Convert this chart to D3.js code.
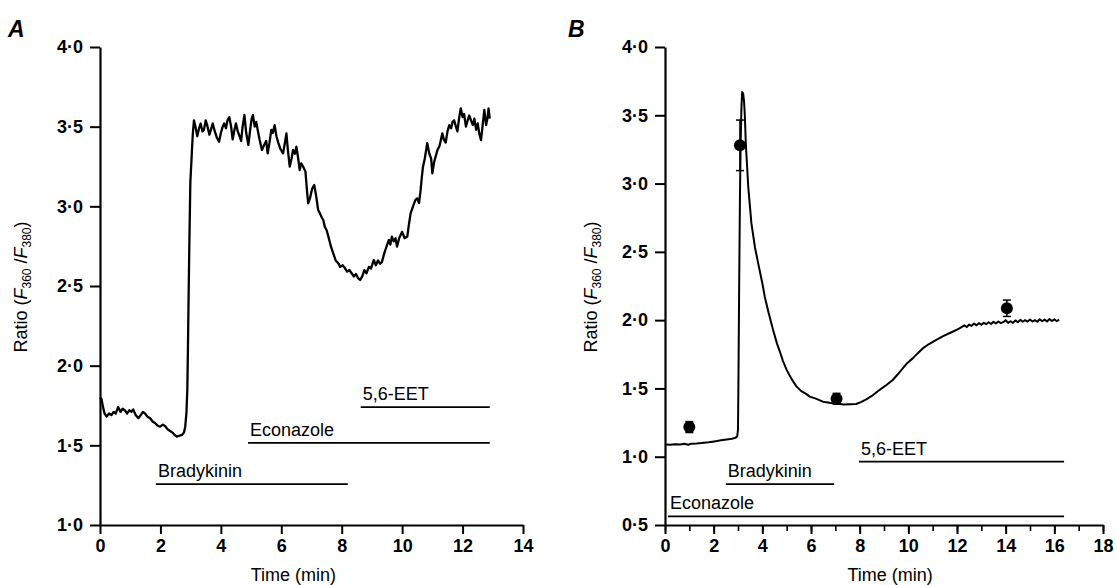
<!DOCTYPE html>
<html>
<head>
<meta charset="utf-8">
<script src="https://cdn.jsdelivr.net/npm/d3@7"></script>
<style>
  body { margin: 0; background: #fff; }
  svg { display: block; }
  text { font-family: "Liberation Sans", Arial, Helvetica, sans-serif; fill: #000; }
</style>
</head>
<body>
<div id="chart"></div>
<script>
// Panel A: ratio trace (time in min)
const traceATime = [0.00,0.05,0.10,0.15,0.22,0.30,0.38,0.45,0.52,0.60,0.68,0.75,0.82,0.90,0.97,1.04,1.10,1.18,1.27,1.35,1.42,1.49,1.57,1.66,1.74,1.82,1.90,1.99,2.08,2.16,2.24,2.32,2.40,2.47,2.54,2.62,2.71,2.78,2.82,2.86,2.89,2.91,2.93,2.96,2.99,3.03,3.07,3.11,3.16,3.22,3.28,3.33,3.39,3.44,3.50,3.56,3.62,3.67,3.73,3.80,3.87,3.94,4.00,4.06,4.11,4.17,4.22,4.28,4.34,4.39,4.45,4.50,4.56,4.62,4.67,4.72,4.78,4.84,4.91,4.97,5.02,5.06,5.12,5.17,5.22,5.28,5.36,5.42,5.50,5.55,5.61,5.67,5.72,5.78,5.84,5.90,5.97,6.06,6.12,6.17,6.22,6.28,6.34,6.39,6.45,6.50,6.56,6.61,6.66,6.72,6.80,6.85,6.89,6.95,7.02,7.09,7.15,7.22,7.28,7.34,7.39,7.44,7.50,7.56,7.64,7.72,7.80,7.89,7.95,8.03,8.11,8.18,8.25,8.33,8.40,8.47,8.54,8.61,8.68,8.75,8.82,8.90,8.97,9.06,9.13,9.20,9.27,9.33,9.40,9.47,9.56,9.61,9.66,9.72,9.78,9.83,9.90,9.95,10.00,10.08,10.17,10.22,10.28,10.36,10.44,10.50,10.56,10.61,10.65,10.69,10.75,10.83,10.90,10.96,11.00,11.06,11.12,11.17,11.24,11.33,11.38,11.44,11.50,11.56,11.62,11.67,11.72,11.78,11.83,11.89,11.94,12.00,12.05,12.11,12.17,12.22,12.28,12.34,12.39,12.45,12.50,12.56,12.61,12.66,12.72,12.78,12.83,12.86,12.90];
const traceARatio = [1.80,1.79,1.74,1.70,1.68,1.70,1.69,1.71,1.70,1.74,1.71,1.73,1.72,1.70,1.72,1.71,1.725,1.69,1.67,1.69,1.71,1.70,1.68,1.67,1.65,1.64,1.625,1.617,1.63,1.62,1.60,1.59,1.58,1.565,1.555,1.56,1.565,1.58,1.617,1.70,1.85,2.10,2.40,2.80,3.15,3.30,3.45,3.54,3.50,3.44,3.49,3.52,3.47,3.48,3.54,3.50,3.45,3.48,3.52,3.47,3.43,3.405,3.46,3.50,3.52,3.49,3.54,3.56,3.50,3.42,3.48,3.52,3.47,3.44,3.41,3.50,3.573,3.46,3.385,3.48,3.55,3.573,3.50,3.53,3.479,3.42,3.354,3.38,3.41,3.333,3.40,3.48,3.46,3.51,3.44,3.40,3.36,3.333,3.40,3.458,3.35,3.249,3.30,3.354,3.33,3.374,3.30,3.228,3.27,3.25,3.218,3.10,3.019,3.05,3.11,3.134,3.07,2.977,2.956,2.93,2.914,2.872,2.85,2.81,2.75,2.705,2.66,2.642,2.62,2.63,2.611,2.59,2.60,2.58,2.56,2.575,2.55,2.538,2.56,2.60,2.58,2.62,2.61,2.663,2.63,2.66,2.64,2.65,2.70,2.74,2.789,2.76,2.81,2.78,2.80,2.747,2.80,2.82,2.84,2.80,2.81,2.88,2.956,3.00,3.04,3.05,3.02,3.10,3.18,3.249,3.30,3.396,3.33,3.30,3.207,3.28,3.32,3.354,3.38,3.458,3.42,3.40,3.47,3.51,3.49,3.53,3.54,3.50,3.47,3.56,3.615,3.56,3.58,3.50,3.54,3.57,3.54,3.51,3.55,3.48,3.52,3.45,3.416,3.50,3.605,3.51,3.56,3.615,3.55];

// Panel B: ratio trace
const traceBTime = [0.04,0.20,0.40,0.63,0.80,0.95,1.07,1.30,1.50,1.80,2.09,2.30,2.53,2.75,2.89,2.97,3.00,3.02,3.05,3.08,3.11,3.14,3.17,3.21,3.25,3.28,3.32,3.35,3.42,3.55,3.70,3.83,4.00,4.10,4.25,4.44,4.60,4.72,4.85,5.00,5.20,5.40,5.60,5.80,5.95,6.20,6.49,6.76,7.04,7.34,7.60,7.86,8.05,8.27,8.50,8.81,9.10,9.36,9.55,9.77,9.95,10.18,10.40,10.59,10.85,11.13,11.45,11.82,12.00,12.10,12.20,12.30,12.40,12.50,12.60,12.70,12.80,12.90,13.00,13.10,13.20,13.30,13.40,13.50,13.60,13.70,13.80,13.90,14.00,14.10,14.20,14.30,14.40,14.50,14.60,14.70,14.80,14.90,15.00,15.10,15.20,15.30,15.40,15.50,15.60,15.70,15.80,15.90,16.00,16.10,16.20];
const traceBRatio = [1.09,1.088,1.092,1.09,1.095,1.088,1.095,1.097,1.10,1.106,1.114,1.12,1.126,1.132,1.138,1.15,1.20,1.60,2.30,2.90,3.30,3.55,3.67,3.66,3.60,3.50,3.30,3.20,2.98,2.71,2.53,2.416,2.27,2.172,2.06,1.93,1.83,1.77,1.70,1.636,1.57,1.515,1.48,1.46,1.44,1.425,1.403,1.395,1.39,1.382,1.385,1.386,1.40,1.42,1.445,1.488,1.525,1.562,1.60,1.647,1.685,1.72,1.76,1.793,1.825,1.854,1.885,1.915,1.93,1.94,1.95,1.962,1.95,1.968,1.958,1.975,1.962,1.978,1.966,1.98,1.97,1.985,1.972,1.988,1.975,1.99,1.978,1.985,2.0,1.98,1.992,1.98,1.998,1.985,2.002,1.988,2.0,1.99,2.005,1.99,2.0,1.988,2.006,1.992,2.004,1.99,2.008,1.994,2.006,1.992,2.004];

// Panel B: mean values with error bars
const meanTime = [1, 3.08, 7.05, 14.05];
const meanRatio = [1.217, 3.28, 1.424, 2.087];
const meanErr = [0.04, 0.185, 0.04, 0.06];

// Drug application bars
const barLabelsA = ["Bradykinin", "Econazole", "5,6-EET"];
const barStartA = [1.85, 4.9, 8.63];
const barEndA = [8.2, 12.9, 12.9];
const barLevelA = [1.256, 1.515, 1.74];

const barLabelsB = ["Bradykinin", "Econazole", "5,6-EET"];
const barStartB = [2.5, 0.12, 7.97];
const barEndB = [6.95, 16.4, 16.4];
const barLevelB = [0.80, 0.563, 0.964];

// Axis ticks
const xTicksA = [0, 2, 4, 6, 8, 10, 12, 14];
const yTicksA = [1.0, 1.5, 2.0, 2.5, 3.0, 3.5, 4.0];
const xTicksB = [0, 2, 4, 6, 8, 10, 12, 14, 16, 18];
const xMinorB = d3.range(0, 19, 1);
const yTicksB = [0.5, 1.0, 1.5, 2.0, 2.5, 3.0, 3.5, 4.0];

const W = 1117, H = 585;
const svg = d3.select("#chart").append("svg").attr("width", W).attr("height", H);

const fmt = d => d3.format(".1f")(d).replace(".", "\u00b7");

function drawPanel(p) {
  const x = d3.scaleLinear().domain(p.xDomain).range(p.xRange);
  const y = d3.scaleLinear().domain(p.yDomain).range([525, 47]);
  const g = svg.append("g");

  // minor ticks (B only)
  if (p.xMinor) {
    g.append("g")
      .attr("transform", "translate(0,525)")
      .call(d3.axisBottom(x).tickValues(p.xMinor).tickSize(6).tickFormat(""))
      .call(s => s.select(".domain").remove())
      .selectAll("line").attr("stroke-width", 1.6);
  }

  const xAxis = g.append("g")
    .attr("transform", "translate(0,525)")
    .call(d3.axisBottom(x).tickValues(p.xTicks).tickSize(9).tickSizeOuter(0).tickPadding(5).tickFormat(d3.format("d")));
  const yAxis = g.append("g")
    .attr("transform", "translate(" + p.xRange[0] + ",0)")
    .call(d3.axisLeft(y).tickValues(p.yTicks).tickSize(10).tickSizeOuter(0).tickPadding(7).tickFormat(fmt));

  [xAxis, yAxis].forEach(a => {
    a.select(".domain").attr("stroke-width", 2.2);
    a.selectAll(".tick line").attr("stroke-width", 2);
    a.selectAll("text")
      .attr("font-size", 18)
      .attr("font-weight", "bold")
      .attr("font-family", '"Liberation Sans", Arial, sans-serif');
  });

  // trace
  const pts = p.time.map((t, i) => [t, p.ratio[i]]);
  g.append("path")
    .datum(pts)
    .attr("fill", "none")
    .attr("stroke", "#000")
    .attr("stroke-width", p.traceWidth)
    .attr("stroke-linejoin", "round")
    .attr("d", d3.line().x(d => x(d[0])).y(d => y(d[1])));

  // drug bars
  p.barLabels.forEach((lab, i) => {
    g.append("line")
      .attr("x1", x(p.barStart[i])).attr("x2", x(p.barEnd[i]))
      .attr("y1", y(p.barLevel[i])).attr("y2", y(p.barLevel[i]))
      .attr("stroke", "#000").attr("stroke-width", 1.8);
    g.append("text")
      .attr("x", x(p.barStart[i]) + 2)
      .attr("y", y(p.barLevel[i]) - 7)
      .attr("font-size", 18)
      .text(lab);
  });

  // means with error bars
  if (p.means) {
    p.means.time.forEach((t, i) => {
      const cx = x(t), cy = y(p.means.ratio[i]);
      const top = y(p.means.ratio[i] + p.means.err[i]);
      const bot = y(p.means.ratio[i] - p.means.err[i]);
      g.append("line").attr("x1", cx).attr("x2", cx).attr("y1", top).attr("y2", bot)
        .attr("stroke", "#000").attr("stroke-width", 1.5);
      [top, bot].forEach(yy => g.append("line")
        .attr("x1", cx - 4).attr("x2", cx + 4).attr("y1", yy).attr("y2", yy)
        .attr("stroke", "#000").attr("stroke-width", 1.5));
      g.append("circle").attr("cx", cx).attr("cy", cy).attr("r", 6).attr("fill", "#000");
    });
  }

  // axis titles
  g.append("text")
    .attr("x", x(p.xTitleAt)).attr("y", 581)
    .attr("text-anchor", "middle").attr("font-size", 18)
    .text("Time (min)");

  const yt = g.append("text")
    .attr("transform", "translate(" + p.yTitleX + ",287) rotate(-90)")
    .attr("text-anchor", "middle").attr("font-size", 18);
  yt.append("tspan").text("Ratio (");
  yt.append("tspan").attr("font-style", "italic").text("F");
  yt.append("tspan").attr("font-size", 12).attr("dy", 4).text("360");
  yt.append("tspan").attr("dy", -4).text(" /");
  yt.append("tspan").attr("font-style", "italic").text("F");
  yt.append("tspan").attr("font-size", 12).attr("dy", 4).text("380");
  yt.append("tspan").attr("dy", -4).text(")");

  // panel letter
  g.append("text")
    .attr("x", p.letterX).attr("y", 37)
    .attr("font-size", 23).attr("font-weight", "bold").attr("font-style", "italic")
    .text(p.letter);
}

drawPanel({
  letter: "A", letterX: 8,
  xDomain: [0, 14], xRange: [100, 523], yDomain: [1, 4],
  xTicks: xTicksA, yTicks: yTicksA,
  time: traceATime, ratio: traceARatio, traceWidth: 2.3,
  barLabels: barLabelsA, barStart: barStartA, barEnd: barEndA, barLevel: barLevelA,
  xTitleAt: 6.4, yTitleX: 27
});

drawPanel({
  letter: "B", letterX: 568,
  xDomain: [0, 18], xRange: [665, 1103], yDomain: [0.5, 4],
  xTicks: xTicksB, xMinor: xMinorB, yTicks: yTicksB,
  time: traceBTime, ratio: traceBRatio, traceWidth: 2,
  barLabels: barLabelsB, barStart: barStartB, barEnd: barEndB, barLevel: barLevelB,
  means: { time: meanTime, ratio: meanRatio, err: meanErr },
  xTitleAt: 9.25, yTitleX: 597
});
</script>
</body>
</html>
